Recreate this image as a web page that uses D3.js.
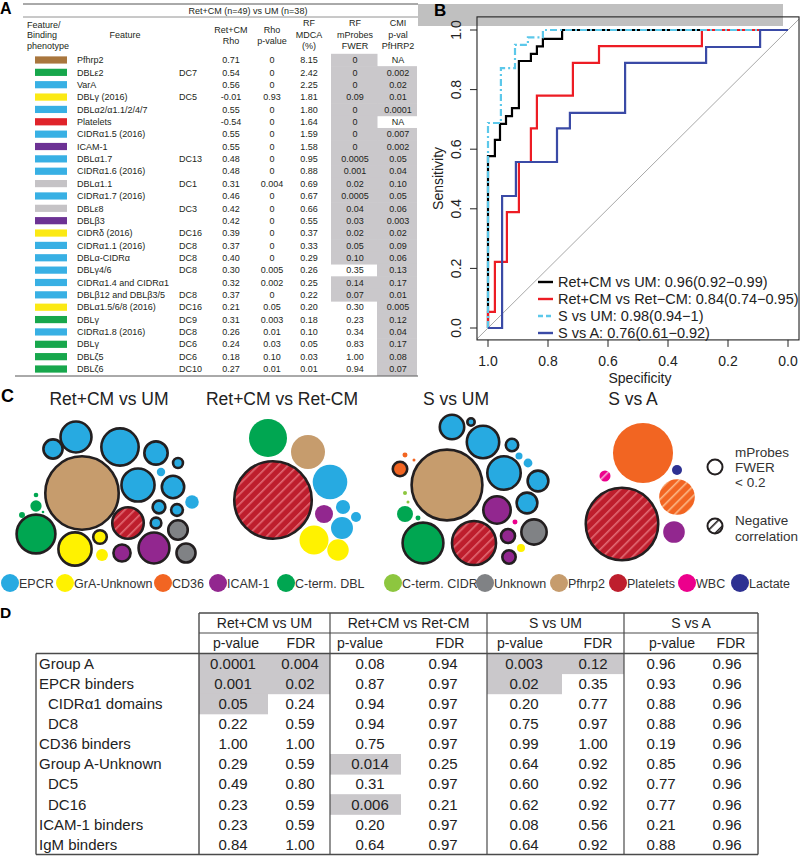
<!DOCTYPE html>
<html><head><meta charset="utf-8">
<script src="https://cdn.jsdelivr.net/npm/d3@7"></script>
<style>
body{margin:0;background:#fff;}
svg{display:block;font-family:"Liberation Sans",Arial,Helvetica,sans-serif;}
</style></head><body>
<svg id="c" width="800" height="857"></svg>
<script>
// ---------------- DATA ----------------
// Panel A
const features = ["Pfhrp2","DBLε2","VarA","DBLγ (2016)","DBLα2/α1.1/2/4/7","Platelets","CIDRα1.5 (2016)","ICAM-1","DBLα1.7","CIDRα1.6 (2016)","DBLα1.1","CIDRα1.7 (2016)","DBLε8","DBLβ3","CIDRδ (2016)","CIDRα1.1 (2016)","DBLα-CIDRα","DBLγ4/6","CIDRα1.4 and CIDRα1","DBLβ12 and DBLβ3/5","DBLα1.5/6/8 (2016)","DBLγ","CIDRα1.8 (2016)","DBLγ","DBLζ5","DBLζ6"];
const featureDC = ["","DC7","","DC5","","","","","DC13","","DC1","","DC3","","DC16","DC8","DC8","DC8","","DC8","DC16","DC9","DC8","DC6","DC6","DC10"];
const featureGroup = ["Pfhrp2","C-term. DBL","EPCR","GrA-Unknown","EPCR","Platelets","EPCR","ICAM-1","EPCR","EPCR","Unknown","EPCR","Unknown","ICAM-1","GrA-Unknown","EPCR","EPCR","EPCR","EPCR","EPCR","GrA-Unknown","C-term. DBL","EPCR","C-term. DBL","C-term. DBL","C-term. DBL"];
const rho   = [0.71,0.54,0.56,-0.01,0.55,-0.54,0.55,0.55,0.48,0.48,0.31,0.46,0.42,0.42,0.39,0.37,0.40,0.30,0.32,0.37,0.21,0.31,0.26,0.24,0.18,0.27];
const rhoP  = [0,0,0,0.93,0,0,0,0,0,0,0.004,0,0,0,0,0,0,0.005,0.002,0,0.05,0.003,0.01,0.03,0.10,0.01];
const mdca  = [8.15,2.42,2.25,1.81,1.80,1.64,1.59,1.58,0.95,0.88,0.69,0.67,0.66,0.55,0.37,0.33,0.29,0.26,0.25,0.22,0.20,0.18,0.10,0.05,0.03,0.01];
const fwer  = [0,0,0,0.09,0,0,0,0,0.0005,0.001,0.02,0.0005,0.04,0.03,0.02,0.05,0.10,0.35,0.14,0.07,0.30,0.23,0.34,0.83,1.00,0.94];
const cmiP  = [null,0.002,0.02,0.01,0.0001,null,0.007,0.002,0.05,0.04,0.10,0.05,0.06,0.003,0.02,0.09,0.06,0.13,0.17,0.01,0.005,0.12,0.04,0.17,0.08,0.07];

// Panel B: ROC curves, [specificity, sensitivity]
const rocLabels = ["Ret+CM vs UM: 0.96(0.92\u22120.99)","Ret+CM vs Ret\u2212CM: 0.84(0.74\u22120.95)","S vs UM: 0.98(0.94\u22121)","S vs A: 0.76(0.61\u22120.92)"];
const rocRetUM = [[1,0],[1,0.577],[0.977,0.577],[0.977,0.631],[0.96,0.631],[0.96,0.685],[0.94,0.685],[0.94,0.711],[0.92,0.711],[0.92,0.738],[0.897,0.738],[0.897,0.896],[0.857,0.896],[0.857,0.92],[0.837,0.92],[0.837,0.945],[0.817,0.945],[0.817,0.97],[0.753,0.97],[0.753,1],[0,1]];
const rocRetRet = [[1,0],[1,0.054],[0.977,0.054],[0.977,0.222],[0.937,0.222],[0.937,0.389],[0.897,0.389],[0.897,0.557],[0.857,0.557],[0.857,0.67],[0.837,0.67],[0.837,0.78],[0.717,0.78],[0.717,0.89],[0.63,0.89],[0.63,0.946],[0.287,0.946],[0.287,1],[0,1]];
const rocSUM = [[1,0],[1,0.688],[0.957,0.688],[0.957,0.872],[0.91,0.872],[0.91,0.95],[0.867,0.95],[0.867,0.975],[0.817,0.975],[0.817,1],[0,1]];
const rocSA = [[1,0],[0.953,0],[0.953,0.443],[0.907,0.443],[0.907,0.557],[0.77,0.557],[0.77,0.67],[0.727,0.67],[0.727,0.722],[0.543,0.722],[0.543,0.89],[0.273,0.89],[0.273,0.943],[0.093,0.943],[0.093,1],[0,1]];
const rocTicks = [1.0,0.8,0.6,0.4,0.2,0.0];

// Panel C
const chartTitles = ["Ret+CM vs UM","Ret+CM vs Ret-CM","S vs UM","S vs A"];
const legendCats = ["EPCR","GrA-Unknown","CD36","ICAM-1","C-term. DBL","C-term. CIDR","Unknown","Pfhrp2","Platelets","WBC","Lactate"];
// chart 1 uses panel A (mdca, fwer, rho)
const c2Cats = ["Platelets","C-term. DBL","Pfhrp2","EPCR","ICAM-1","EPCR","EPCR","EPCR","GrA-Unknown","GrA-Unknown"];
const c2Vals = [9.05,2.04,1.63,1.69,0.46,0.28,0.14,0.68,1.19,0.65];
const c2Sig  = [1,0,0,0,0,0,0,0,0,0];
const c2Neg  = [1,0,0,0,0,0,0,0,0,0];
const c3Cats = ["Pfhrp2","CD36","CD36","CD36","EPCR","EPCR","EPCR","EPCR","EPCR","EPCR","EPCR","EPCR","EPCR","ICAM-1","C-term. DBL","C-term. DBL","C-term. CIDR","C-term. CIDR","C-term. DBL","Platelets","ICAM-1","ICAM-1","WBC","Unknown","GrA-Unknown"];
const c3Vals = [7.6,0.41,0.035,0.013,1.03,0.14,1.73,0.32,0.07,0.11,1.83,0.77,0.77,1.27,0.36,0.035,0.023,0.013,2.66,3.07,0.39,0.36,0.035,1.1,0.09];
const c3Sig  = [1,1,0,0,1,1,1,1,0,0,1,1,1,1,0,0,0,0,1,1,1,1,0,1,0];
const c3Neg  = [0,0,0,0,0,0,0,0,0,0,0,0,0,0,0,0,0,0,0,1,0,0,0,0,0];
const c4Cats = ["Platelets","CD36","Lactate","WBC","CD36","ICAM-1"];
const c4Vals = [7.95,5.09,0.14,0.17,1.79,0.66];
const c4Sig  = [1,0,0,0,0,0];
const c4Neg  = [1,0,0,1,1,0];

// Panel D
const dRows = ["Group A","EPCR binders","CIDRα1 domains","DC8","CD36 binders","Group A-Unknown","DC5","DC16","ICAM-1 binders","IgM binders"];
const dIndent = [0,0,1,1,0,0,1,1,0,0];
const dComparisons = ["Ret+CM vs UM","Ret+CM vs Ret-CM","S vs UM","S vs A"];
const pRetUM   = [0.0001,0.001,0.05,0.22,1.00,0.29,0.49,0.23,0.23,0.84];
const fdrRetUM = [0.004,0.02,0.24,0.59,1.00,0.59,0.80,0.59,0.59,1.00];
const pRetRet  = [0.08,0.87,0.94,0.94,0.75,0.014,0.31,0.006,0.20,0.64];
const fdrRetRet= [0.94,0.97,0.97,0.97,0.97,0.25,0.97,0.21,0.97,0.97];
const pSUM     = [0.003,0.02,0.20,0.75,0.99,0.64,0.60,0.62,0.08,0.64];
const fdrSUM   = [0.12,0.35,0.77,0.97,1.00,0.92,0.92,0.92,0.56,0.92];
const pSA      = [0.96,0.93,0.88,0.88,0.19,0.85,0.77,0.77,0.21,0.88];
const fdrSA    = [0.96,0.96,0.96,0.96,0.96,0.96,0.96,0.96,0.96,0.96];

// ---------------- LAYOUT / STYLE ----------------
const svg = d3.select("#c");
const TXT = "#231f20", GRAYCELL = "#cac8cb";
const fmt = v => v === 0 ? "0" : (v < 0.01 ? String(v) : (Math.round(v*100)/100 === v ? v.toFixed(2) : String(v)));
const swatchColor = {"Pfhrp2":"#a9763d","C-term. DBL":"#17a74c","EPCR":"#38b0e4","GrA-Unknown":"#fbe914","Platelets":"#e0232a","ICAM-1":"#6c3294","Unknown":"#c5c3c6"};
const catColor = {"EPCR":"#27aae1","GrA-Unknown":"#fff200","CD36":"#f26522","ICAM-1":"#92278f","C-term. DBL":"#00a651","C-term. CIDR":"#8dc63f","Unknown":"#808285","Pfhrp2":"#c69c6d","Platelets":"#be1e2d","WBC":"#ec008c","Lactate":"#2e3192"};
const hatchFg = {"Platelets":"#e26a74","CD36":"#fbb685","WBC":"#f7a6d2"};

function txt(g, x, y, s, opt={}) {
  return g.append("text").attr("x",x).attr("y",y).text(s)
    .attr("font-size", opt.size||9).attr("fill", opt.fill||TXT)
    .attr("text-anchor", opt.anchor||"start").attr("font-weight", opt.weight||"normal");
}

// ---------- Panel A ----------
const gA = svg.append("g");
txt(gA, 0, 14, "A", {size:16, weight:"bold", fill:"#000"});
const rowY = d3.scaleBand().domain(d3.range(features.length)).range([53.8, 375.2]);
const bw = rowY.bandwidth();
features.forEach((f,i) => {
  const y0 = rowY(i);
  if (fwer[i] < 0.2) gA.append("rect").attr("x",331).attr("y",y0).attr("width",46.5).attr("height",bw+0.6).attr("fill",GRAYCELL);
  if (cmiP[i] !== null) gA.append("rect").attr("x",377).attr("y",y0).attr("width",40).attr("height",bw+0.6).attr("fill",GRAYCELL);
});
gA.append("line").attr("x1",23).attr("x2",418).attr("y1",4).attr("y2",4).attr("stroke","#555").attr("stroke-width",1);
gA.append("line").attr("x1",23).attr("x2",418).attr("y1",17).attr("y2",17).attr("stroke","#777").attr("stroke-width",0.8);
gA.append("line").attr("x1",15).attr("x2",418).attr("y1",376).attr("y2",376).attr("stroke","#555").attr("stroke-width",1);
txt(gA, 248, 13.5, "Ret+CM (n=49) vs UM (n=38)", {anchor:"middle"});
[["Feature/",28],["Binding",38],["phenotype",49]].forEach(d => txt(gA, 27, d[1], d[0]));
txt(gA, 125, 38, "Feature", {anchor:"middle"});
[["Ret+CM",33],["Rho",44]].forEach(d => txt(gA, 231, d[1], d[0], {anchor:"middle"}));
[["Rho",33],["p-value",44]].forEach(d => txt(gA, 272, d[1], d[0], {anchor:"middle"}));
[["RF",25.5],["MDCA",37.5],["(%)",49]].forEach(d => txt(gA, 309, d[1], d[0], {anchor:"middle"}));
[["RF",25.5],["mProbes",37.5],["FWER",49]].forEach(d => txt(gA, 355, d[1], d[0], {anchor:"middle"}));
[["CMI",25.5],["p-val",37.5],["PfHRP2",49]].forEach(d => txt(gA, 398, d[1], d[0], {anchor:"middle"}));
features.forEach((f,i) => {
  const yc = rowY(i) + bw/2;
  gA.append("rect").attr("x",35).attr("y",yc-3.6).attr("width",32).attr("height",7.2).attr("fill",swatchColor[featureGroup[i]]);
  txt(gA, 77, yc+3.2, f);
  if (featureDC[i]) txt(gA, 179, yc+3.2, featureDC[i]);
  txt(gA, 231, yc+3.2, rho[i].toFixed(2), {anchor:"middle"});
  txt(gA, 272, yc+3.2, fmt(rhoP[i]), {anchor:"middle"});
  txt(gA, 309, yc+3.2, mdca[i].toFixed(2), {anchor:"middle"});
  txt(gA, 355, yc+3.2, fmt(fwer[i]), {anchor:"middle"});
  txt(gA, 398, yc+3.2, cmiP[i] === null ? "NA" : fmt(cmiP[i]), {anchor:"middle"});
});

// ---------- Panel B ----------
const gB = svg.append("g");
gB.append("rect").attr("x",418).attr("y",4).attr("width",365).attr("height",22).attr("fill","#c0c0c0");
txt(gB, 434, 16, "B", {size:17, weight:"bold", fill:"#000"});
const xB = d3.scaleLinear().domain([1,0]).range([488,788]);
const yB = d3.scaleLinear().domain([0,1]).range([328,30]);
const fx0 = xB(1.0367), fx1 = xB(-0.0367), fy0 = yB(1.044), fy1 = yB(-0.04);
gB.append("clipPath").attr("id","clipB").append("rect").attr("x",fx0).attr("y",fy0).attr("width",fx1-fx0).attr("height",fy1-fy0);
const plot = gB.append("g").attr("clip-path","url(#clipB)");
const lineB = d3.line().x(d => xB(d[0])).y(d => yB(d[1]));
plot.append("path").attr("d", lineB([[1.1,-0.1],[-0.1,1.1]])).attr("stroke","#a8a8a8").attr("stroke-width",1).attr("fill","none");
const rocSeries = [
  {data:rocRetUM, color:"#000000", dash:null},
  {data:rocRetRet, color:"#ed1c24", dash:null},
  {data:rocSUM, color:"#5cc8ea", dash:"7,3,2,3"},
  {data:rocSA, color:"#3a4aa6", dash:null}
];
rocSeries.forEach(s => {
  plot.append("path").attr("d", lineB(s.data)).attr("fill","none").attr("stroke",s.color)
    .attr("stroke-width",2.2).attr("stroke-dasharray",s.dash).attr("stroke-linejoin","miter");
});
gB.append("rect").attr("x",fx0).attr("y",fy0).attr("width",fx1-fx0).attr("height",fy1-fy0).attr("fill","none").attr("stroke","#222").attr("stroke-width",1.1);
rocTicks.forEach(t => {
  gB.append("line").attr("x1",xB(t)).attr("x2",xB(t)).attr("y1",fy1).attr("y2",fy1+7).attr("stroke","#222");
  txt(gB, xB(t), 366, t.toFixed(1), {size:14, anchor:"middle", fill:"#222"});
  gB.append("line").attr("x1",fx0).attr("x2",fx0-7).attr("y1",yB(t)).attr("y2",yB(t)).attr("stroke","#222");
  txt(gB, 0, 0, t.toFixed(1), {size:14, anchor:"middle", fill:"#222"}).attr("transform",`translate(461,${yB(t)}) rotate(-90)`);
});
txt(gB, 640, 383, "Specificity", {size:14, anchor:"middle", fill:"#222"});
txt(gB, 0, 0, "Sensitivity", {size:14, anchor:"middle", fill:"#222"}).attr("transform",`translate(443,${(fy0+fy1)/2}) rotate(-90)`);
rocLabels.forEach((l,i) => {
  const y = 282 + i*17;
  gB.append("line").attr("x1",538).attr("x2",553).attr("y1",y).attr("y2",y).attr("stroke",rocSeries[i].color).attr("stroke-width",2.4).attr("stroke-dasharray",i===2?"5,3":null);
  txt(gB, 558, y+5, l, {size:14.5, fill:"#222"});
});

// ---------- Panel C ----------
const gC = svg.append("g");
const defs = svg.append("defs");
function hatchPattern(id, bg, fg) {
  const p = defs.append("pattern").attr("id",id).attr("patternUnits","userSpaceOnUse")
    .attr("width",7).attr("height",7).attr("patternTransform","rotate(45)");
  p.append("rect").attr("width",7).attr("height",7).attr("fill",bg);
  p.append("rect").attr("width",1.6).attr("height",7).attr("fill",fg);
}
Object.keys(hatchFg).forEach(k => hatchPattern("h-"+k.replace(/\W/g,""), catColor[k], hatchFg[k]));
hatchPattern("h-legend", "#ffffff", "#231f20");
txt(gC, 1, 402, "C", {size:18, weight:"bold", fill:"#000"});
const titleX = [109, 282, 456, 633];
chartTitles.forEach((t,i) => txt(gC, titleX[i], 405, t, {size:17.5, anchor:"middle", fill:"#222"}));
const rScale = d3.scaleSqrt().domain([0, 8.15]).range([0, 38]);
const chartAnchors = [[82,493],[273,500],[447,485],[622,524]];
const layout1 = [[0,0],[-46,41],[38,-46],[-7,56],[56,-8],[46,30],[-6,-56],[72,55],[74,-40],[91,-6],[96,37],[-29,-44],[104,60],[40,60],[18,44],[77,14],[95,17],[110,9],[74,30],[96,-30],[20,62],[-46,13],[79,-21],[-60,22],[-46,2],[-39,19]];
const layout2 = [[0,0],[-5,-62],[35,-48],[57,-18],[51,14],[70,7],[83,17],[69,28],[41,40],[65,50]];
const layout3 = [[0,0],[-47,-16],[-42,-30],[-33,-25],[5,-58],[24,-63],[36,-43],[65,-40],[72,-29],[81,-22],[57,-12],[91,-4],[80,18],[50,25],[-42,29],[-29,33],[-42,8],[-39,17],[-24,58],[27,58],[61,51],[62,72],[68,37],[87,47],[74,63]];
const layout4 = [[0,0],[21,-71],[55,-54],[-17,-48],[55,-27],[52,8]];
const charts = [
  {cats:featureGroup, vals:mdca, sig:fwer.map(f => f < 0.2), neg:rho.map(r => r < -0.05), layout:layout1},
  {cats:c2Cats, vals:c2Vals, sig:c2Sig, neg:c2Neg, layout:layout2},
  {cats:c3Cats, vals:c3Vals, sig:c3Sig, neg:c3Neg, layout:layout3},
  {cats:c4Cats, vals:c4Vals, sig:c4Sig, neg:c4Neg, layout:layout4}
];
charts.forEach((ch, ci) => {
  const [ax, ay] = chartAnchors[ci];
  const bx = d3.scaleLinear().domain([0,1]).range([ax, ax+1]);
  const by = d3.scaleLinear().domain([0,1]).range([ay, ay+1]);
  const items = ch.cats.map((c,i) => ({c, v:ch.vals[i], sig:!!ch.sig[i], neg:!!ch.neg[i], p:ch.layout[i]}));
  items.forEach(d => {
    const r = rScale(d.v);
    const fill = d.neg ? `url(#h-${d.c.replace(/\W/g,"")})` : catColor[d.c];
    gC.append("circle").attr("cx",bx(d.p[0])).attr("cy",by(d.p[1]))
      .attr("r", d.sig ? Math.max(r-1.3,0.5) : r).attr("fill",fill)
      .attr("stroke", d.sig ? "#231f20" : "none").attr("stroke-width", d.sig ? 2.6 : 0);
  });
});
// symbol legend
gC.append("circle").attr("cx",715).attr("cy",467).attr("r",7.5).attr("fill","#fff").attr("stroke","#231f20").attr("stroke-width",2);
[["mProbes",457],["FWER",472],["< 0.2",487]].forEach(d => txt(gC, 735, d[1], d[0], {size:13.5, fill:"#333"}));
gC.append("circle").attr("cx",715).attr("cy",526).attr("r",7.5).attr("fill","url(#h-legend)").attr("stroke","#231f20").attr("stroke-width",2);
[["Negative",525],["correlation",541]].forEach(d => txt(gC, 735, d[1], d[0], {size:13.5, fill:"#333"}));
// category legend
const legX = [10, 65, 163, 218, 286, 393, 485, 559, 618, 687, 740];
legendCats.forEach((c,i) => {
  gC.append("circle").attr("cx",legX[i]).attr("cy",583).attr("r",9).attr("fill",catColor[c]);
  txt(gC, legX[i]+9, 587.5, c, {size:12.5, fill:"#333"});
});

// ---------- Panel D ----------
const gD = svg.append("g");
txt(gD, 0, 618, "D", {size:15.5, weight:"bold", fill:"#000"});
const groupX = [199, 330, 487, 624, 758];
const splitX = [268, 401, 562, 694];
const pCx = [233, 370, 524, 661], fCx = [300, 443, 593, 727];
const pHx = [236, 360, 520, 672], fHx = [301, 450, 598, 731];
const dY = d3.scaleBand().domain(d3.range(dRows.length)).range([653.5, 854.5]);
const dbw = dY.bandwidth();
const pCols = [pRetUM, pRetRet, pSUM, pSA], fCols = [fdrRetUM, fdrRetRet, fdrSUM, fdrSA];
dRows.forEach((r,i) => {
  for (let g = 0; g < 4; g++) {
    const p = pCols[g][i], f = fCols[g][i];
    if (p <= 0.05) gD.append("rect").attr("x",groupX[g]).attr("y",dY(i)).attr("width",splitX[g]-groupX[g]).attr("height",dbw+0.5).attr("fill",GRAYCELL);
    if (f < 0.2) gD.append("rect").attr("x",splitX[g]).attr("y",dY(i)).attr("width",groupX[g+1]-splitX[g]).attr("height",dbw+0.5).attr("fill",GRAYCELL);
  }
});
const LC = "#4a4a4a";
function hl(x1,x2,y,w){ gD.append("line").attr("x1",x1).attr("x2",x2).attr("y1",y).attr("y2",y).attr("stroke",LC).attr("stroke-width",w||1.2); }
function vl(x,y1,y2,w){ gD.append("line").attr("x1",x).attr("x2",x).attr("y1",y1).attr("y2",y2).attr("stroke",LC).attr("stroke-width",w||1.2); }
hl(199,758,613,1.3); hl(199,758,633); hl(36,758,653.5,1.3); hl(36,758,854.5,1.5);
groupX.forEach((x,i) => vl(x,613,854.5, (i===0||i===4)?1.4:1.2));
vl(36,653.5,854.5,1.4);
dComparisons.forEach((c,g) => {
  txt(gD, (groupX[g]+groupX[g+1])/2, 628, c, {size:14, anchor:"middle", fill:"#222"});
  txt(gD, pHx[g], 648, "p-value", {size:14, anchor:"middle", fill:"#222"});
  txt(gD, fHx[g], 648, "FDR", {size:14, anchor:"middle", fill:"#222"});
});
dRows.forEach((r,i) => {
  const yb = dY(i) + dbw/2 + 5.3;
  txt(gD, dIndent[i] ? 48 : 39, yb, r, {size:15, fill:"#222"});
  for (let g = 0; g < 4; g++) {
    txt(gD, pCx[g], yb, fmt(pCols[g][i]), {size:15, anchor:"middle", fill:"#222"});
    txt(gD, fCx[g], yb, fmt(fCols[g][i]), {size:15, anchor:"middle", fill:"#222"});
  }
});
</script></body></html>
